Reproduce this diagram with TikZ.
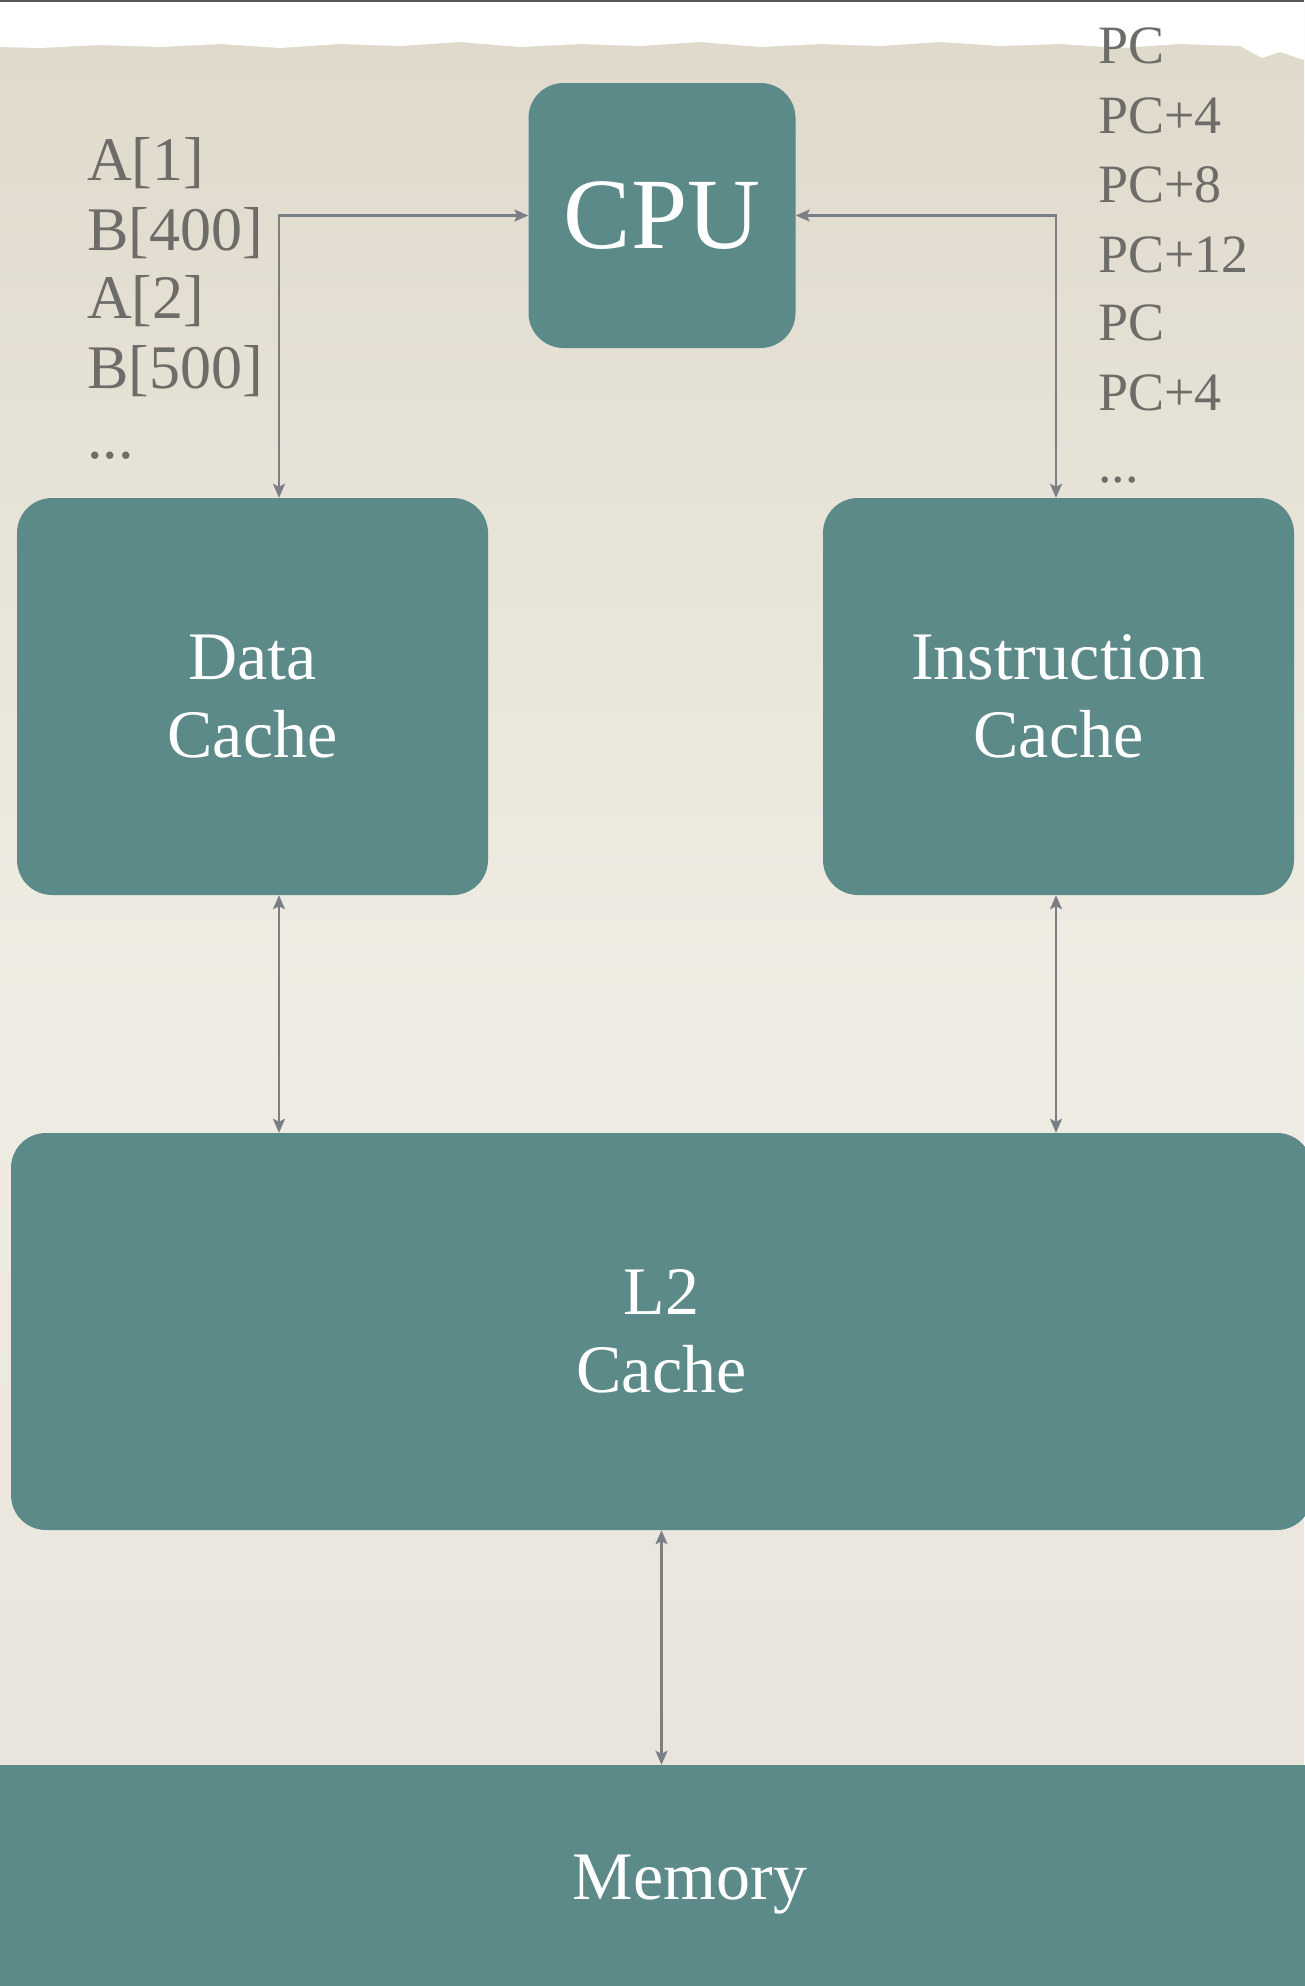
\documentclass[tikz,border=0pt]{standalone}
\usepackage{fontspec}
\setmainfont{Liberation Serif}
\usetikzlibrary{arrows.meta}
\definecolor{boxteal}{HTML}{5B8A89}
\definecolor{labelgray}{HTML}{6D6C68}
\definecolor{linkgray}{HTML}{7A7F85}
\definecolor{papertop}{HTML}{DFD9CB}
\definecolor{papermid}{HTML}{EFECE3}
\definecolor{paperlow}{HTML}{E8E3DA}
\begin{document}
\begin{tikzpicture}[x=1pt,y=-1pt,
  unit/.style={fill=boxteal, draw=none, rounded corners=35pt, inner sep=0pt,
    text=white, align=center, font=\fontsize{68}{78}\selectfont},
  link/.style={draw=linkgray, line width=2.3pt,
    {Stealth[length=14pt,width=12pt,inset=3pt]}-{Stealth[length=14pt,width=12pt,inset=3pt]}},
  trace/.style={text=labelgray, inner sep=0pt, anchor=base west},
  lefttrace/.style={trace, font=\fontsize{62}{69}\selectfont},
  righttrace/.style={trace, font=\fontsize{54}{69}\selectfont}]

% paper background
\useasboundingbox (0,0) rectangle (1304,1986);
\shade[top color=papertop, bottom color=papermid] (0,0) rectangle (1304,1000);
\shade[top color=papermid, bottom color=paperlow] (0,999) rectangle (1304,1986);

% torn white strip along the top edge
\fill[white] (0,0) -- (1304,0) -- (1304,60) -- (1280,52) -- (1262,58) -- (1240,46)
  -- (1180,44) -- (1120,48) -- (1060,44) -- (1000,46) -- (940,42) -- (880,46)
  -- (820,44) -- (760,47) -- (700,42) -- (640,46) -- (580,44) -- (520,47)
  -- (460,42) -- (400,46) -- (340,44) -- (280,48) -- (220,44) -- (160,47)
  -- (100,45) -- (40,48) -- (0,47) -- cycle;
\draw[line width=2.5pt, color=black!65] (0,1) -- (1304,1);

% memory hierarchy blocks
\node[unit, minimum width=267pt, minimum height=265pt,
  font=\fontsize{101}{110}\selectfont] (cpu) at (662,215.5) {CPU};
\node[unit, minimum width=471pt, minimum height=397pt] (dcache) at (252.5,696.5) {Data\\Cache};
\node[unit, minimum width=471pt, minimum height=397pt] (icache) at (1058.5,696.5) {Instruction\\Cache};
\node[unit, minimum width=1301pt, minimum height=397pt] (l2) at (661.5,1331.5) {L2\\Cache};
\node[unit, sharp corners, minimum width=1400pt, minimum height=240pt] (mem) at (690,1885) {Memory};

% vertical bus positions
\coordinate (dx) at (279,0);
\coordinate (ix) at (1056,0);

% connections
\draw[link] (cpu.west) -| (dcache.north -| dx);
\draw[link] (cpu.east) -| (icache.north -| ix);
\draw[link] (dcache.south -| dx) -- (l2.north -| dx);
\draw[link] (icache.south -| ix) -- (l2.north -| ix);
\draw[link] (l2.south) -- (l2.south |- mem.north);

% data access trace
\node[lefttrace] (da1) at (87,180) {A[1]};
\node[lefttrace] (db400) at (87,250) {B[400]};
\node[lefttrace] (da2) at (87,318) {A[2]};
\node[lefttrace] (db500) at (87,388) {B[500]};
\node[lefttrace] (dmore) at (87,458) {...};

% instruction fetch trace
\node[righttrace] (ipc1) at (1098,63) {PC};
\node[righttrace] (ipc2) at (1098,133) {PC+4};
\node[righttrace] (ipc3) at (1098,202) {PC+8};
\node[righttrace] (ipc4) at (1098,272) {PC+12};
\node[righttrace] (ipc5) at (1098,340) {PC};
\node[righttrace] (ipc6) at (1098,410) {PC+4};
\node[righttrace] (imore) at (1098,482) {...};
\end{tikzpicture}
\end{document}
